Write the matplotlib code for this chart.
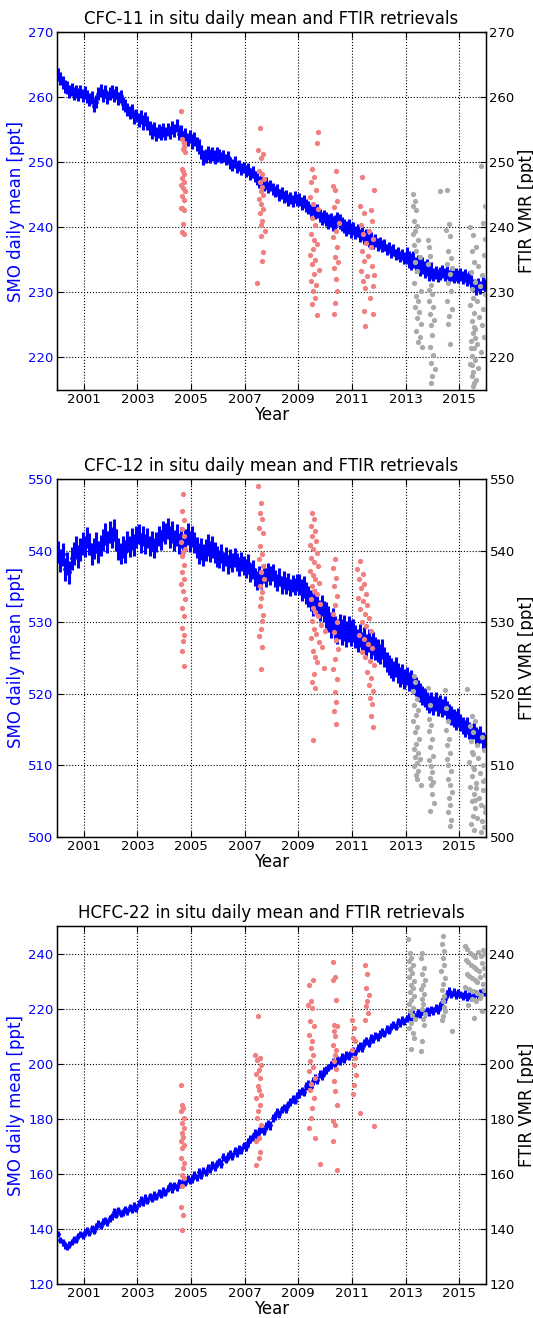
import numpy as np
import matplotlib
matplotlib.use("Agg")
import matplotlib.pyplot as plt

# ---------------- data ----------------
xticks_years = [2001, 2003, 2005, 2007, 2009, 2011, 2013, 2015]
start_year = 2000
n_years = 16

# in situ monthly values (12 per year, 2000..2015)
cfc11_insitu = [
    263.5, 262.9, 262.3, 261.6, 261.5, 260.9, 261.2, 260.6, 260.9, 260.4, 260.8, 260.3,
    260.7, 260.1, 259.6, 259.9, 258.7, 259.3, 260.5, 261.0, 260.3, 260.9, 260.0, 260.5,
    260.8, 260.2, 260.7, 259.8, 260.1, 259.0, 258.7, 258.1, 257.6, 257.9, 256.9, 257.2,
    256.5, 256.9, 256.1, 256.6, 256.0, 255.2, 254.7, 255.1, 254.3, 254.8, 254.5, 254.9,
    254.4, 255.0, 254.6, 255.3, 254.9, 255.6, 254.4, 254.7, 253.8, 254.2, 253.5, 253.9,
    253.2, 253.6, 252.8, 252.4, 251.6, 250.7, 251.0, 251.4, 250.9, 251.3, 250.8, 251.2,
    251.1, 250.7, 251.0, 250.4, 250.8, 249.9, 249.6, 250.0, 249.3, 249.5, 248.9, 249.2,
    248.6, 248.9, 248.2, 248.5, 247.8, 247.4, 247.0, 247.3, 246.5, 246.8, 246.1, 246.4,
    245.9, 245.5, 245.8, 245.0, 245.3, 244.6, 244.8, 244.2, 244.5, 244.0, 244.6, 244.2,
    244.3, 243.7, 244.0, 243.3, 243.0, 242.6, 242.9, 242.2, 242.5, 241.8, 241.4, 241.7,
    241.3, 240.9, 241.1, 240.6, 240.8, 241.3, 240.9, 240.5, 240.2, 239.8, 240.1, 239.5,
    239.8, 239.2, 239.5, 238.7, 239.0, 238.4, 238.7, 237.9, 238.2, 237.6, 237.9, 237.4,
    237.6, 237.1, 237.3, 236.6, 236.9, 236.2, 236.5, 235.8, 236.0, 235.5, 235.8, 235.3,
    235.6, 235.0, 234.7, 235.1, 234.2, 234.5, 233.8, 234.1, 233.5, 233.8, 233.1, 233.4,
    232.8, 233.1, 232.6, 232.9, 233.2, 232.7, 233.0, 232.5, 232.8, 232.4, 232.7, 232.5,
    232.8, 232.3, 232.6, 232.0, 232.3, 231.6, 231.0, 230.6, 231.2, 230.8, 231.4, 231.0,
]
cfc12_insitu = [
    539.8, 538.6, 539.5, 537.4, 538.2, 537.0, 538.9, 539.6, 540.4, 539.2, 540.1, 541.0,
    540.6, 541.8, 540.9, 539.5, 540.3, 541.1, 539.8, 540.7, 541.5, 542.3, 541.2, 542.6,
    541.8, 542.9, 541.5, 540.2, 539.6, 540.5, 539.8, 541.3, 540.6, 541.6, 540.8, 541.9,
    542.3, 541.1, 542.0, 540.9, 541.7, 540.6, 541.4, 540.3, 541.2, 542.1, 541.5, 542.8,
    542.4, 543.1, 541.9, 542.6, 541.4, 542.2, 541.0, 541.8, 540.7, 541.5, 542.3, 541.3,
    542.0, 541.1, 540.4, 539.6, 540.2, 539.4, 540.1, 540.8, 539.9, 540.5, 539.7, 539.2,
    538.8, 539.6, 538.5, 539.2, 538.1, 538.9, 538.3, 539.0, 538.4, 537.8, 538.5, 537.9,
    537.5, 538.2, 536.9, 537.4, 536.3, 535.8, 536.6, 536.0, 536.8, 536.2, 537.0, 536.5,
    536.9, 536.1, 535.6, 536.3, 535.2, 535.9, 535.1, 535.7, 534.8, 535.4, 535.0, 535.6,
    535.3, 534.5, 534.9, 534.1, 533.6, 533.0, 532.4, 533.1, 532.2, 531.6, 532.3, 531.5,
    531.0, 530.4, 529.6, 530.2, 529.1, 528.7, 529.4, 528.6, 529.2, 528.4, 529.0, 528.5,
    528.9, 528.0, 527.5, 528.2, 527.1, 527.7, 526.8, 527.4, 526.5, 527.0, 526.3, 526.0,
    525.6, 526.2, 525.1, 524.5, 524.0, 523.6, 523.2, 523.8, 522.9, 522.4, 522.8, 522.1,
    522.5, 521.7, 522.0, 521.3, 521.0, 520.6, 520.2, 519.8, 519.5, 519.0, 518.6, 518.9,
    518.4, 518.9, 518.2, 518.6, 518.0, 518.4, 517.7, 517.3, 517.0, 516.6, 516.3, 516.7,
    516.0, 515.6, 515.2, 515.6, 514.9, 514.6, 514.9, 514.2, 513.9, 514.3, 513.5, 513.2,
]
hcfc22_insitu = [
    138.2, 136.0, 135.1, 134.0, 133.5, 134.3, 135.2, 136.4, 136.0, 137.5, 138.1, 137.6,
    138.8, 139.6, 138.5, 140.2, 139.4, 140.8, 141.9, 141.2, 142.6, 143.1, 142.4, 143.8,
    144.6, 146.3, 145.2, 146.7, 145.5, 146.0, 147.2, 146.4, 147.8, 147.0, 148.3, 147.6,
    149.2, 150.5, 149.6, 151.3, 150.2, 151.8, 151.0, 152.4, 151.7, 153.1, 152.5, 153.9,
    153.2, 154.6, 155.8, 154.4, 155.9, 155.1, 156.7, 156.0, 157.4, 156.8, 158.3, 157.5,
    158.2, 159.5, 158.7, 160.6, 159.4, 161.2, 160.5, 162.3, 161.6, 163.1, 162.4, 163.8,
    164.5, 163.7, 166.0, 165.2, 166.4, 167.3, 166.6, 168.2, 167.5, 169.1, 168.6, 170.3,
    169.8, 171.4, 172.6, 173.5, 174.8, 174.2, 175.6, 176.2, 175.5, 177.4, 178.1, 177.6,
    180.2, 181.0, 182.6, 181.8, 183.4, 184.1, 183.5, 185.2, 186.0, 187.3, 186.6, 188.4,
    189.2, 190.1, 189.6, 191.8, 192.5, 191.7, 193.6, 194.8, 194.1, 196.3, 195.5, 197.2,
    197.8, 198.6, 199.4, 200.5, 199.8, 201.3, 200.9, 202.4, 201.8, 203.2, 202.7, 204.1,
    204.5, 203.8, 205.6, 206.3, 205.7, 207.4, 208.2, 207.6, 209.3, 208.8, 210.2, 209.6,
    210.8, 211.5, 210.9, 212.6, 212.0, 213.4, 214.1, 213.5, 215.2, 214.6, 216.0, 215.4,
    216.5, 217.3, 216.4, 218.1, 217.2, 218.6, 217.9, 219.0, 218.3, 219.4, 218.7, 219.8,
    219.1, 220.2, 219.6, 221.0, 222.4, 223.5, 225.2, 226.4, 225.1, 226.0, 224.8, 225.6,
    225.1, 224.6, 225.3, 224.2, 224.8, 223.9, 225.0, 225.6, 224.9, 225.8, 226.3, 225.7,
]

# half-spread of the daily values around each monthly value, one per year
cfc11_spread = [1.0, 1.0, 1.0, 1.1, 1.0, 1.1, 0.9, 0.9, 0.9, 1.0, 1.1, 1.0, 0.9, 1.3, 1.0, 1.0]
cfc12_spread = [1.6, 1.5, 1.5, 1.4, 1.5, 1.5, 1.3, 1.3, 1.2, 1.5, 1.8, 1.6, 1.4, 1.3, 1.3, 1.2]
hcfc22_spread = [1.2, 1.2, 1.3, 1.3, 1.3, 1.4, 1.4, 1.5, 1.4, 1.5, 1.4, 1.4, 1.3, 1.3, 1.4, 1.3]

# FTIR retrievals, early campaigns (salmon) and 2013+ (grey)
cfc11_ftir_early_x = [
    2004.62, 2004.68, 2004.72, 2004.75, 2004.70, 2004.78, 2004.66, 2004.70, 2004.74, 2004.68, 2004.72,
    2004.64, 2004.70, 2004.76, 2004.66, 2004.72, 2004.68, 2004.74, 2004.62, 2004.70, 2004.66, 2004.74,
    2007.58, 2007.48, 2007.70, 2007.62, 2007.52, 2007.66, 2007.72, 2007.56, 2007.64, 2007.60, 2007.68,
    2007.54, 2007.62, 2007.70, 2007.58, 2007.66, 2007.62, 2007.74, 2007.60, 2007.68, 2007.64, 2007.46,
    2009.74, 2009.70, 2009.52, 2009.60, 2009.48, 2009.66, 2009.44, 2009.56, 2009.72, 2009.50, 2009.62,
    2009.46, 2009.58, 2009.68, 2009.54, 2009.42, 2009.64, 2009.50, 2009.76, 2009.58, 2009.48, 2009.66,
    2009.56, 2009.62, 2009.52, 2009.70,
    2010.42, 2010.30, 2010.38, 2010.46, 2010.34, 2010.50, 2010.40, 2010.28, 2010.44, 2010.36, 2010.48,
    2010.32, 2010.40, 2010.46, 2010.38, 2010.34,
    2011.38, 2011.82, 2011.30, 2011.70, 2011.46, 2011.76, 2011.34, 2011.64, 2011.42, 2011.80, 2011.52,
    2011.70, 2011.36, 2011.60, 2011.44, 2011.74, 2011.32, 2011.56, 2011.40, 2011.78, 2011.48, 2011.66,
    2011.84, 2011.46, 2011.80, 2011.50,
]
cfc11_ftir_early_y = [
    257.9, 253.5, 253.0, 252.4, 252.0, 251.5, 249.0, 248.6, 248.2, 247.5, 247.0,
    246.5, 246.0, 245.5, 244.8, 244.2, 243.0, 242.7, 242.9, 240.5, 239.2, 238.9,
    255.3, 251.8, 251.2, 250.6, 248.7, 248.2, 247.4, 246.9, 246.2, 245.6, 245.0,
    244.4, 243.6, 242.8, 242.2, 241.0, 240.3, 239.5, 238.6, 236.2, 234.8, 231.5,
    254.6, 252.9, 249.0, 247.7, 246.9, 245.7, 244.6, 243.6, 242.8, 241.5, 240.3,
    239.0, 238.0, 237.5, 236.6, 235.8, 235.0, 234.4, 233.5, 232.8, 231.8, 231.2,
    230.2, 229.2, 228.2, 226.5,
    248.7, 246.4, 245.7, 244.1, 243.1, 240.6, 239.5, 238.5, 237.0, 235.4, 234.6,
    233.8, 232.0, 230.2, 228.4, 226.6,
    247.7, 245.7, 243.2, 242.6, 242.2, 241.0, 240.4, 239.5, 239.0, 238.2, 237.6,
    236.9, 236.4, 235.6, 234.8, 234.0, 233.3, 232.5, 231.8, 231.0, 230.7, 229.2,
    232.6, 227.1, 226.6, 224.9,
]
cfc11_ftir_late_x = [
    2013.28, 2013.34, 2013.26, 2013.40, 2013.30, 2013.44, 2013.36, 2013.28, 2013.48, 2013.32, 2013.40,
    2013.52, 2013.36, 2013.44, 2013.30, 2013.56, 2013.38, 2013.46, 2013.34, 2013.50, 2013.42, 2013.58,
    2013.40, 2013.54, 2013.46, 2013.60,
    2013.82, 2013.86, 2013.90, 2013.84, 2013.94, 2013.88, 2013.98, 2013.86, 2014.02, 2013.92, 2014.06,
    2013.96, 2014.00, 2013.90, 2014.04, 2013.94, 2014.08, 2013.98, 2013.96,
    2014.30, 2014.56, 2014.62, 2014.52, 2014.66, 2014.58, 2014.70, 2014.54, 2014.64, 2014.60, 2014.68,
    2014.56, 2014.72, 2014.62, 2014.58, 2014.66, 2014.74,
    2015.82, 2015.95, 2015.42, 2015.88, 2015.50, 2015.98, 2015.46, 2015.62, 2015.92, 2015.54, 2015.70,
    2015.44, 2015.86, 2015.58, 2015.76, 2015.48, 2015.96, 2015.52, 2015.66, 2015.40, 2015.90, 2015.56,
    2015.74, 2015.46, 2015.84, 2015.60, 2015.50, 2015.94, 2015.44, 2015.68, 2015.54, 2015.80, 2015.48,
    2015.58, 2015.42, 2015.72, 2015.52, 2015.46, 2015.64, 2015.56, 2015.50, 2015.44, 2015.60, 2015.48,
    2015.54,
]
cfc11_ftir_late_y = [
    245.1, 244.1, 243.2, 242.6, 241.0, 240.2, 239.5, 238.9, 238.0, 237.2, 236.4,
    235.4, 234.6, 233.3, 231.5, 230.2, 229.4, 228.7, 227.7, 227.0, 226.0, 225.1,
    224.1, 223.1, 222.3, 221.6,
    238.0, 236.9, 235.6, 234.4, 231.2, 230.4, 229.7, 228.6, 227.8, 226.6, 225.8,
    225.0, 223.4, 221.6, 220.4, 219.2, 218.3, 217.1, 216.0,
    245.6, 245.7, 240.5, 239.6, 238.6, 236.4, 235.3, 234.4, 232.8, 231.4, 230.2,
    228.7, 227.5, 226.3, 225.1, 222.1, 233.8,
    249.4, 243.2, 240.0, 240.6, 238.8, 238.2, 236.4, 236.9, 235.7, 234.6, 234.0,
    233.2, 232.7, 231.6, 231.0, 230.5, 229.8, 229.2, 228.6, 228.0, 227.4, 226.8,
    226.2, 225.6, 225.0, 224.4, 223.8, 223.2, 222.6, 222.0, 221.4, 220.8, 220.2,
    219.6, 219.0, 218.4, 217.8, 217.2, 216.6, 216.0, 215.6, 221.5, 223.0, 218.8,
    224.7,
]

cfc12_ftir_early_x = [
    2004.70, 2004.66, 2004.74, 2004.68, 2004.72, 2004.64, 2004.76, 2004.70, 2004.66, 2004.74, 2004.68,
    2004.72, 2004.64, 2004.70, 2004.76, 2004.68, 2004.72, 2004.66, 2004.74, 2004.70, 2004.68, 2004.72,
    2007.50, 2007.62, 2007.56, 2007.66, 2007.52, 2007.70, 2007.58, 2007.64, 2007.54, 2007.68, 2007.60,
    2007.72, 2007.56, 2007.66, 2007.62, 2007.58, 2007.70, 2007.64, 2007.60, 2007.54, 2007.66, 2007.62,
    2009.52, 2009.58, 2009.46, 2009.62, 2009.50, 2009.66, 2009.42, 2009.56, 2009.70, 2009.48, 2009.60,
    2009.74, 2009.44, 2009.54, 2009.64, 2009.78, 2009.50, 2009.58, 2009.68, 2009.46, 2009.82, 2009.56,
    2009.62, 2009.72, 2009.52, 2009.86, 2009.60, 2009.66, 2009.48, 2009.76, 2009.90, 2009.56, 2009.64,
    2009.70, 2009.94, 2009.58, 2009.50, 2009.98, 2009.62, 2009.54,
    2010.36, 2010.30, 2010.42, 2010.34, 2010.46, 2010.38, 2010.28, 2010.44, 2010.32, 2010.40, 2010.48,
    2010.36, 2010.30, 2010.44, 2010.38, 2010.42, 2010.34, 2010.40,
    2011.30, 2011.20, 2011.40, 2011.26, 2011.46, 2011.34, 2011.52, 2011.22, 2011.42, 2011.58, 2011.30,
    2011.48, 2011.64, 2011.36, 2011.54, 2011.70, 2011.28, 2011.44, 2011.60, 2011.76, 2011.38, 2011.50,
    2011.66, 2011.82, 2011.56, 2011.72, 2011.62, 2011.78, 2011.68, 2011.74, 2011.70, 2011.80,
]
cfc12_ftir_early_y = [
    547.9, 545.5, 544.3, 543.0, 542.0, 541.2, 540.2, 539.8, 539.3, 538.0, 537.0,
    536.1, 535.3, 534.4, 533.2, 532.0, 530.8, 529.2, 528.2, 527.4, 526.0, 523.9,
    549.0, 546.7, 545.3, 544.4, 543.2, 542.5, 540.6, 539.5, 538.8, 537.8, 537.0,
    536.0, 535.0, 534.2, 533.4, 532.3, 531.0, 530.2, 529.0, 528.1, 526.5, 523.4,
    545.3, 544.4, 543.5, 542.8, 542.0, 541.4, 540.8, 540.2, 539.6, 539.0, 538.4,
    537.8, 537.2, 536.6, 536.0, 535.5, 535.0, 534.4, 533.9, 533.2, 532.6, 532.0,
    531.4, 530.8, 530.2, 529.6, 529.0, 528.4, 527.8, 527.2, 526.6, 526.0, 525.2,
    524.4, 523.6, 522.8, 521.6, 528.8, 520.8, 513.5,
    538.8, 537.6, 536.2, 535.0, 533.6, 532.4, 531.2, 530.0, 528.6, 527.5, 526.2,
    524.8, 523.4, 522.0, 520.2, 518.8, 517.6, 515.8,
    538.5, 537.4, 536.8, 536.0, 535.4, 534.8, 534.0, 533.4, 533.0, 532.4, 531.8,
    531.2, 530.6, 530.0, 529.4, 528.8, 528.2, 527.6, 527.0, 526.4, 525.8, 525.2,
    524.6, 524.0, 523.0, 522.2, 521.2, 520.4, 519.4, 518.6, 516.9, 515.3,
]
cfc12_ftir_late_x = [
    2013.30, 2013.36, 2013.26, 2013.42, 2013.32, 2013.48, 2013.38, 2013.28, 2013.44, 2013.34, 2013.50,
    2013.40, 2013.30, 2013.46, 2013.36, 2013.54, 2013.42, 2013.32, 2013.48, 2013.38, 2013.44, 2013.58,
    2013.84, 2013.90, 2013.86, 2013.94, 2013.88, 2013.98, 2013.92, 2014.02, 2013.86, 2013.96, 2014.00,
    2013.90, 2014.04, 2013.94, 2013.98, 2014.06, 2013.92,
    2014.46, 2014.52, 2014.58, 2014.50, 2014.62, 2014.56, 2014.66, 2014.54, 2014.60, 2014.68, 2014.58,
    2014.64, 2014.72, 2014.62, 2014.66, 2014.60, 2014.70, 2014.64,
    2015.30, 2015.46, 2015.60, 2015.40, 2015.52, 2015.84, 2015.44, 2015.66, 2015.94, 2015.50, 2015.72,
    2015.36, 2015.88, 2015.56, 2015.78, 2015.48, 2015.98, 2015.62, 2015.42, 2015.90, 2015.54, 2015.74,
    2015.46, 2015.82, 2015.58, 2015.96, 2015.50, 2015.68, 2015.86, 2015.44, 2015.92, 2015.56, 2015.80,
    2015.52, 2015.64, 2015.98, 2015.48, 2015.90, 2015.58,
]
cfc12_ftir_late_y = [
    522.5, 521.6, 520.4, 519.3, 518.5, 517.8, 517.0, 516.2, 515.4, 514.6, 513.7,
    513.0, 512.3, 511.8, 511.2, 510.9, 510.3, 509.9, 509.2, 508.6, 508.1, 507.2,
    520.8, 518.5, 516.5, 515.6, 514.8, 513.7, 512.6, 511.3, 510.8, 509.9, 509.1,
    508.3, 507.7, 507.2, 506.0, 504.8, 503.6,
    520.5, 518.0, 516.2, 515.0, 513.7, 512.8, 511.8, 510.9, 510.0, 509.2, 508.1,
    507.2, 506.3, 505.4, 504.4, 503.5, 502.4, 501.6,
    520.7, 516.9, 516.2, 515.5, 514.6, 514.0, 513.4, 512.8, 512.2, 511.6, 511.0,
    510.5, 510.0, 509.5, 509.0, 508.5, 508.0, 507.5, 507.0, 506.5, 506.0, 505.5,
    505.0, 504.5, 504.0, 503.5, 503.0, 502.6, 502.2, 501.8, 501.4, 501.0, 500.7,
    509.8, 506.8, 504.2, 511.9, 507.8, 505.2,
]

hcfc22_ftir_early_x = [
    2004.62, 2004.66, 2004.70, 2004.64, 2004.72, 2004.68, 2004.74, 2004.66, 2004.70, 2004.62, 2004.72,
    2004.68, 2004.64, 2004.74, 2004.70, 2004.66, 2004.72, 2004.68, 2004.64, 2004.70, 2004.66,
    2007.50, 2007.40, 2007.56, 2007.46, 2007.60, 2007.52, 2007.44, 2007.58, 2007.48, 2007.54, 2007.62,
    2007.42, 2007.56, 2007.50, 2007.46, 2007.60, 2007.54, 2007.44, 2007.58, 2007.52, 2007.42,
    2009.56, 2009.40, 2009.48, 2009.36, 2009.52, 2009.44, 2009.60, 2009.38, 2009.50, 2009.46, 2009.56,
    2009.42, 2009.54, 2009.40, 2009.62, 2009.48, 2009.44, 2009.58, 2009.52, 2009.46, 2009.40, 2009.62,
    2009.80,
    2010.30, 2010.36, 2010.28, 2010.40, 2010.32, 2010.44, 2010.34, 2010.38, 2010.30, 2010.42, 2010.36,
    2010.32, 2010.40, 2010.34, 2010.38, 2010.44, 2010.30, 2010.36, 2010.28, 2010.46,
    2011.50, 2011.58, 2011.54, 2011.62, 2011.56, 2011.52, 2011.60, 2011.48, 2011.00, 2011.08, 2011.04,
    2011.12, 2011.02, 2011.10, 2011.06, 2011.14, 2011.08, 2011.04, 2011.30, 2011.84,
]
hcfc22_ftir_early_y = [
    192.4, 185.1, 184.0, 182.7, 180.3, 178.5, 176.8, 175.0, 173.4, 171.8, 170.5,
    169.3, 165.7, 163.8, 162.1, 159.6, 158.4, 155.5, 148.0, 145.2, 139.6,
    217.5, 203.3, 202.2, 201.5, 199.5, 197.8, 196.4, 194.8, 192.0, 190.5, 188.6,
    187.5, 185.0, 182.7, 180.4, 177.8, 173.0, 171.8, 168.1, 165.7, 163.3,
    230.5, 228.7, 222.7, 221.4, 220.3, 215.4, 213.6, 210.5, 208.1, 205.7, 203.3,
    200.9, 198.8, 197.2, 194.8, 192.5, 190.6, 187.5, 184.0, 180.3, 176.7, 173.0,
    163.6,
    236.9, 231.5, 230.5, 223.3, 214.2, 213.6, 211.8, 210.0, 206.9, 205.0, 203.3,
    200.9, 198.0, 193.7, 190.0, 185.1, 179.1, 177.7, 171.8, 161.5,
    236.0, 232.4, 227.5, 225.0, 222.7, 220.9, 218.5, 216.0, 216.0, 213.0, 209.3,
    208.1, 205.0, 202.1, 199.6, 196.0, 192.4, 189.0, 182.0, 177.2,
]
hcfc22_ftir_late_x = [
    2013.10, 2013.16, 2013.22, 2013.12, 2013.28, 2013.18, 2013.24, 2013.14, 2013.30, 2013.20, 2013.26,
    2013.16, 2013.32, 2013.22, 2013.12, 2013.28, 2013.18, 2013.24, 2013.34, 2013.20, 2013.14, 2013.26,
    2013.30, 2013.22,
    2013.62, 2013.56, 2013.68, 2013.60, 2013.72, 2013.64, 2013.58, 2013.70, 2013.62, 2013.66, 2013.60,
    2013.74, 2013.64, 2013.68, 2013.62, 2013.58,
    2014.40, 2014.36, 2014.44, 2014.38, 2014.42, 2014.34, 2014.46, 2014.40, 2014.36, 2014.44, 2014.38,
    2014.42, 2014.46, 2014.40, 2014.36, 2014.74,
    2015.20, 2015.30, 2015.40, 2015.50, 2015.60, 2015.70, 2015.80, 2015.90, 2015.98, 2015.24, 2015.34,
    2015.44, 2015.54, 2015.64, 2015.74, 2015.84, 2015.94, 2015.28, 2015.38, 2015.48, 2015.58, 2015.68,
    2015.78, 2015.88, 2015.96, 2015.22, 2015.36, 2015.52, 2015.66, 2015.82, 2015.92, 2015.46, 2015.62,
    2015.76, 2015.32, 2015.86, 2015.56,
]
hcfc22_ftir_late_y = [
    245.1, 240.2, 238.4, 237.2, 235.8, 234.4, 233.0, 231.6, 230.2, 228.7, 227.4,
    226.0, 224.6, 223.2, 221.8, 220.4, 219.0, 217.6, 216.2, 214.8, 213.0, 211.0,
    209.3, 205.5,
    240.2, 238.4, 234.8, 232.6, 230.5, 228.7, 227.0, 225.2, 223.4, 221.6, 219.8,
    218.0, 216.2, 214.2, 208.1, 204.5,
    246.3, 243.3, 240.9, 238.5, 236.0, 233.6, 231.2, 229.0, 226.8, 224.6, 222.6,
    220.6, 219.0, 217.4, 216.0, 211.8,
    242.7, 241.5, 240.2, 239.6, 238.8, 240.6, 239.2, 241.4, 240.0, 237.5, 236.8,
    235.9, 235.2, 234.5, 233.8, 236.4, 234.9, 232.6, 231.8, 231.0, 230.4, 229.6,
    231.3, 228.9, 232.2, 228.0, 227.2, 226.4, 225.6, 224.8, 226.9, 223.6, 222.7,
    223.9, 221.2, 219.0, 216.6,
]

titles = [
    "CFC-11 in situ daily mean and FTIR retrievals",
    "CFC-12 in situ daily mean and FTIR retrievals",
    "HCFC-22 in situ daily mean and FTIR retrievals",
]
ylims = [(215, 270), (500, 550), (120, 250)]
yticks = [
    [220, 230, 240, 250, 260, 270],
    [500, 510, 520, 530, 540, 550],
    [120, 140, 160, 180, 200, 220, 240],
]

# ---------------- plotting ----------------
W, H = 533, 1318
fig = plt.figure(figsize=(W / 100, H / 100), dpi=100)
fig.patch.set_facecolor("white")

months = start_year + (np.arange(n_years * 12) + 0.5) / 12.0

panels = [
    (cfc11_insitu, cfc11_spread, cfc11_ftir_early_x, cfc11_ftir_early_y, cfc11_ftir_late_x, cfc11_ftir_late_y),
    (cfc12_insitu, cfc12_spread, cfc12_ftir_early_x, cfc12_ftir_early_y, cfc12_ftir_late_x, cfc12_ftir_late_y),
    (hcfc22_insitu, hcfc22_spread, hcfc22_ftir_early_x, hcfc22_ftir_early_y, hcfc22_ftir_late_x, hcfc22_ftir_late_y),
]
tops_px = [32, 479, 926]
left_px, right_px, height_px = 57, 486, 358
blue = "#0000ff"

for i, (insitu, spread, ex, ey, lx, ly) in enumerate(panels):
    top = tops_px[i]
    rect = [left_px / W, 1 - (top + height_px) / H, (right_px - left_px) / W, height_px / H]
    ax = fig.add_axes(rect)
    ax.errorbar(months, insitu, yerr=np.repeat(spread, 12), fmt="o", color=blue,
                ms=3.4, mew=0, elinewidth=2.2, capsize=0, zorder=3)
    ax.set_xlim(2000, 2016)
    ax.set_ylim(*ylims[i])
    ax.set_yticks(yticks[i])
    ax.set_xticks(xticks_years)
    ax.set_xticklabels([str(t) for t in xticks_years])
    ax.grid(True, color="k", linestyle=":", linewidth=0.8)
    ax.set_axisbelow(True)
    ax.tick_params(axis="both", direction="in", length=4, labelsize=9.5, top=True, pad=2.5)
    ax.tick_params(axis="x", pad=2)
    ax.tick_params(axis="y", labelcolor=blue)
    ax.set_ylabel("SMO daily mean [ppt]", color=blue, fontsize=12, labelpad=2)
    ax.set_xlabel("Year", fontsize=12, labelpad=0)
    ax.set_title(titles[i], fontsize=12)
    for s in ax.spines.values():
        s.set_linewidth(1.0)

    ax2 = ax.twinx()
    ax2.plot(ex, ey, "o", color="#f08080", ms=3.8, mew=0)
    ax2.plot(lx, ly, "o", color="#aaaaaa", ms=3.8, mew=0)
    ax2.set_ylim(*ylims[i])
    ax2.set_yticks(yticks[i])
    ax2.tick_params(axis="y", direction="in", length=4, labelsize=9.5, pad=2.5)
    ax2.set_ylabel("FTIR VMR [ppt]", fontsize=12, labelpad=2)
    ax2.set_xlim(2000, 2016)

fig.savefig("out.png", dpi=100, facecolor="white")
